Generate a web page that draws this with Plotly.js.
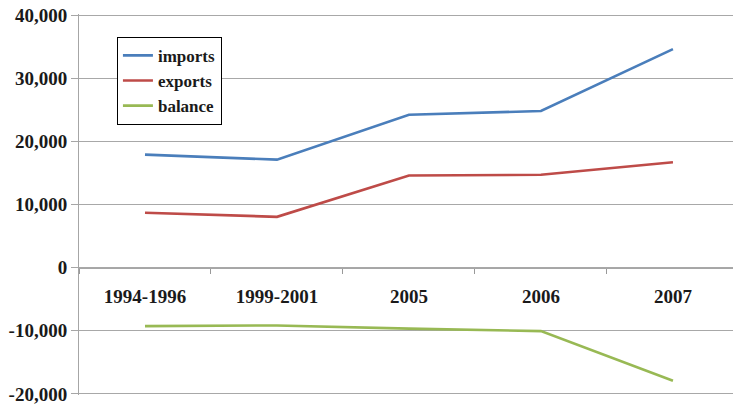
<!DOCTYPE html>
<html>
<head>
<meta charset="utf-8">
<script src="https://cdn.plot.ly/plotly-3.0.1.min.js"></script>
<style>html,body{margin:0;padding:0;background:#fff}#chart{width:733px;height:404px}</style>
</head>
<body>
<div id="chart"></div>
<script>
const categories = ['1994-1996', '1999-2001', '2005', '2006', '2007'];
const imports = [17900, 17100, 24200, 24800, 34600];
const exports = [8700, 8050, 14600, 14700, 16700];
const balance = [-9250, -9150, -9650, -10050, -17900];
const yTickVals = [-20000, -10000, 0, 10000, 20000, 30000, 40000];
const yTickText = ['-20,000', '-10,000', '0', '10,000', '20,000', '30,000', '40,000'];

const font = {family: 'Liberation Serif, Times New Roman, serif', color: '#1a1a1a', size: 19, weight: 'bold'};
const mk = (name, y, color) => ({
  type: 'scatter', mode: 'lines', name: name, x: categories, y: y,
  line: {color: color, width: 2.6}
});
const data = [
  mk('imports', imports, '#4A7EBB'),
  mk('exports', exports, '#BE4B48'),
  mk('balance', balance, '#98B954')
];
const yRange = [-20160, 40160];
const zeroFrac = (0 - yRange[0]) / (yRange[1] - yRange[0]);
const layout = {
  width: 733, height: 404,
  margin: {l: 79, r: 0, t: 14, b: 9},
  paper_bgcolor: '#fff', plot_bgcolor: '#fff',
  font: font,
  showlegend: true,
  legend: {
    x: 0.058, y: 0.94, xanchor: 'left', yanchor: 'top',
    bordercolor: '#000', borderwidth: 1, bgcolor: '#fff',
    font: {family: font.family, size: 17, weight: 'bold', color: '#1a1a1a'},
    tracegroupgap: 0, itemwidth: 30
  },
  xaxis: {
    type: 'category', range: [-0.5, 4.455],
    anchor: 'free', position: zeroFrac,
    tickson: 'boundaries', ticks: 'outside', ticklen: 5, tickcolor: '#999',
    showline: true, linecolor: '#a6a6a6', linewidth: 1,
    showgrid: false, zeroline: false,
    ticklabelstandoff: 12,
    tickfont: font
  },
  yaxis: {
    range: yRange,
    tickmode: 'array',
    tickvals: yTickVals, ticktext: yTickText,
    ticks: 'outside', ticklen: 7, tickcolor: '#a6a6a6',
    showline: true, linecolor: '#a6a6a6', linewidth: 1,
    showgrid: true, gridcolor: '#a8a8a8', gridwidth: 1,
    zeroline: false,
    tickfont: font
  }
};
Plotly.newPlot('chart', data, layout, {staticPlot: true, displayModeBar: false}).then(() => {
  // Plotly hides the bottom tick label because its descent touches the page edge; keep it visible.
  document.querySelectorAll('.ytick text').forEach(t => { t.style.display = ''; });
});
</script>
</body>
</html>
